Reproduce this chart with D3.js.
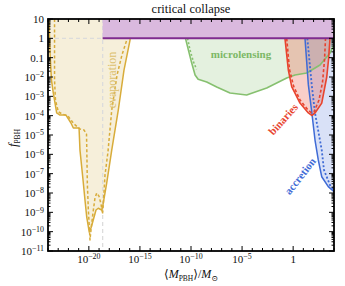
<!DOCTYPE html>
<html>
<head>
<meta charset="utf-8">
<script src="https://cdnjs.cloudflare.com/ajax/libs/d3/7.8.5/d3.min.js"></script>
<style>
  body { margin: 0; background: #fff; }
  svg { display: block; }
  text { font-family: "Liberation Serif", "DejaVu Serif", serif; fill: #111; }
</style>
</head>
<body>
<svg id="chart" width="345" height="286"></svg>
<script>
// all curves as [log10 M/Msun, log10 f_PBH]
var evapSolid = [[-23.9,1],[-23.9,0.95],[-23.8,-0.76],[-23.66,-2.16],[-23.48,-2.83],[-23.15,-3.86],
  [-22.83,-3.97],[-22.24,-3.97],[-21.75,-4.38],[-21.52,-4.64],[-20.96,-4.64],[-20.87,-5.78],
  [-20.57,-7.33],[-20.38,-8.36],[-20.21,-9.24],[-19.96,-10.02],[-19.79,-9.81],[-19.57,-9.40],
  [-19.30,-8.88],[-19.08,-8.79],[-18.74,-8.88],[-18.62,-8.62],[-18.25,-7.48],[-17.76,-5.78],
  [-17.12,-3.71],[-16.56,-1.64],[-15.97,-0.09],[-15.8,1]];
var evapDashed = [[-23.36,1],[-23.36,-2.16],[-23.27,-3.19],[-22.99,-3.80],[-22.63,-3.91],[-22.04,-4.02],
  [-21.45,-4.43],[-20.87,-4.69],[-20.48,-4.74],[-20.23,-4.95],[-20.2,-5.78],[-20.15,-7.48],
  [-20.05,-8.88],[-19.94,-9.91],[-19.89,-10.43],[-19.74,-9.66],[-19.56,-8.88],[-19.40,-8.26],
  [-19.23,-8.0],[-19.01,-8.16],[-18.81,-8.57],[-18.66,-9.09],[-18.59,-8.62],[-18.42,-7.07],
  [-18.13,-5.88],[-17.76,-3.71],[-17.24,-1.90],[-16.76,-0.86],[-16.29,-0.09],[-16.12,1]];
var lensSolid = [[-10.54,0],[-10.26,-0.60],[-9.93,-1.28],[-9.6,-1.9],[-9.3,-2.12],[-8.46,-2.26],
  [-7.48,-2.52],[-6.18,-2.83],[-4.55,-2.93],[-2.59,-2.57],[-0.63,-2.05],[0.18,-1.90],
  [1.33,-1.79],[2.63,-1.38],[3.61,-0.76],[4.0,-0.35]];
var lensDotted = [[-10.34,0],[-10.10,-0.60],[-9.76,-1.22],[-9.45,-1.6]];
var binSolid = [[-0.80,0],[-0.47,-1.64],[-0.14,-2.50],[0.67,-3.35],[1.49,-3.86],[1.85,-3.99],
  [2.14,-3.86],[2.80,-3.35],[3.29,-2.0],[3.46,-1.12],[3.61,0]];
var binDashed = [[-0.63,0],[-0.36,-1.61],[0.04,-2.47],[0.67,-3.19],[1.46,-3.71],[1.8,-3.85],
  [2.04,-3.81],[2.53,-3.19],[2.88,-2.26],[3.07,-1.12],[3.17,0]];
var accSolid = [[1.16,0],[1.49,-2.41],[1.82,-3.80],[2.14,-5.26],[2.46,-6.29],[2.80,-7.16],
  [3.44,-7.67],[4.0,-7.93]];
var accDotted = [[1.39,0],[1.82,-2.41],[2.14,-3.86],[2.80,-5.78],[3.02,-6.81],[3.61,-7.59],[4.0,-7.85]];
var bandFrom = -18.65;   // left end of the f = 1 band and the grey guide

var xMajor = [-20, -15, -10, -5, 0];
var yDecades = d3.range(-11, 2);

var svg = d3.select("#chart");
var x = d3.scaleLog().domain([1e-24, 1e4]).range([48, 334]);
var y = d3.scaleLog().domain([1e-11, 10]).range([251, 19]);
var X = function (d) { return x(Math.pow(10, d[0])); };
var Y = function (d) { return y(Math.pow(10, d[1])); };
var line = d3.line().x(X).y(Y);

function area(pts, extra) {
  return line(pts.concat(extra || [])) + "Z";
}

// fills
svg.append("path").attr("d", area(evapSolid)).attr("fill", "#f6efda");
svg.append("path").attr("d", area(lensSolid, [[4, 0]])).attr("fill", "#86c06f").attr("fill-opacity", 0.22);
svg.append("path").attr("d", area(accSolid, [[4, 0]])).attr("fill", "#3f6bd6").attr("fill-opacity", 0.2);
svg.append("path").attr("d", area(binSolid)).attr("fill", "#e8442e").attr("fill-opacity", 0.26);

// grey guides
svg.append("line").attr("x1", x(Math.pow(10, bandFrom))).attr("x2", x(Math.pow(10, bandFrom)))
  .attr("y1", y(10)).attr("y2", y(1e-11))
  .attr("stroke", "#dcdcdc").attr("stroke-width", 1.3).attr("stroke-dasharray", "4,3");
svg.append("line").attr("x1", x(1e-24)).attr("x2", x(Math.pow(10, bandFrom)))
  .attr("y1", y(1)).attr("y2", y(1))
  .attr("stroke", "#dcdcdc").attr("stroke-width", 1.3).attr("stroke-dasharray", "4,3");

function curve(pts, color, w, dash) {
  var p = svg.append("path").attr("d", line(pts)).attr("fill", "none")
    .attr("stroke", color).attr("stroke-width", w).attr("stroke-linejoin", "round");
  if (dash) p.attr("stroke-dasharray", dash);
}

curve(evapDashed, "#d8ac3a", 1.5, "3,2.2");
curve(evapSolid, "#d8ac3a", 1.5);
curve(lensDotted, "#86c06f", 1.6, "2,2");
curve(lensSolid, "#86c06f", 1.6);
curve(accDotted, "#3f6bd6", 1.8, "2,2");
curve(accSolid, "#3f6bd6", 1.5);
curve(binDashed, "#e8442e", 1.6, "3,2.2");
curve(binSolid, "#e8442e", 1.6);

// f = 1 band
svg.append("rect").attr("x", x(Math.pow(10, bandFrom))).attr("y", y(10))
  .attr("width", x(1e4) - x(Math.pow(10, bandFrom))).attr("height", y(1) - y(10))
  .attr("fill", "#dab9de");
svg.append("line").attr("x1", x(Math.pow(10, bandFrom))).attr("x2", x(1e4))
  .attr("y1", y(1)).attr("y2", y(1)).attr("stroke", "#7f2b8f").attr("stroke-width", 2);

// region labels
function label(txt, cx, cy, rot, color, size, weight) {
  svg.append("text").attr("transform", "translate(" + cx + "," + cy + ") rotate(" + rot + ")")
    .attr("text-anchor", "middle").attr("dominant-baseline", "central")
    .style("fill", color).style("font-size", size + "px").style("font-weight", weight)
    .text(txt);
}
label("evaporation", 112, 80, -90, "#dcc06e", 12, "normal");
label("microlensing", 241, 54, 0, "#7cb866", 11, "bold");
label("binaries", 283, 119, -48, "#e8442e", 11, "bold");
label("accretion", 300, 176, -52, "#3f6bd6", 11, "bold");

// frame and ticks
var gx = svg.append("g");
d3.range(-24, 5).forEach(function (k) {
  var px = x(Math.pow(10, k)), len = xMajor.indexOf(k) >= 0 ? 5 : 3;
  gx.append("line").attr("x1", px).attr("x2", px).attr("y1", 251).attr("y2", 251 - len);
  gx.append("line").attr("x1", px).attr("x2", px).attr("y1", 19).attr("y2", 19 + len);
});
yDecades.forEach(function (k) {
  var py = y(Math.pow(10, k));
  gx.append("line").attr("x1", 48).attr("x2", 53).attr("y1", py).attr("y2", py);
  gx.append("line").attr("x1", 334).attr("x2", 329).attr("y1", py).attr("y2", py);
  if (k < 1) d3.range(2, 10).forEach(function (m) {
    var pm = y(m * Math.pow(10, k));
    gx.append("line").attr("x1", 48).attr("x2", 50.5).attr("y1", pm).attr("y2", pm);
    gx.append("line").attr("x1", 334).attr("x2", 331.5).attr("y1", pm).attr("y2", pm);
  });
});
gx.selectAll("line").attr("stroke", "#000").attr("stroke-width", 1);
svg.append("rect").attr("x", 48).attr("y", 19).attr("width", 286).attr("height", 232)
  .attr("fill", "none").attr("stroke", "#000").attr("stroke-width", 1.8);

function pow10(sel, k) {
  if (k === 0) { sel.text("1"); return; }
  if (k === 1) { sel.text("10"); return; }
  if (k === -1) { sel.text("0.1"); return; }
  sel.append("tspan").text("10");
  sel.append("tspan").attr("dy", "-0.45em").style("font-size", "0.72em").text("\u2212" + (-k));
}

yDecades.forEach(function (k) {
  var t = svg.append("text").attr("x", 44).attr("y", y(Math.pow(10, k)) + 4)
    .attr("text-anchor", "end").style("font-size", "11px");
  pow10(t, k);
});
xMajor.forEach(function (k) {
  var t = svg.append("text").attr("x", x(Math.pow(10, k))).attr("y", 263)
    .attr("text-anchor", "middle").style("font-size", "11px");
  pow10(t, k);
});

svg.append("text").attr("x", 191).attr("y", 13).attr("text-anchor", "middle")
  .style("font-size", "12.5px").text("critical collapse");

var yl = svg.append("text").attr("transform", "translate(17,138) rotate(-90)")
  .attr("text-anchor", "middle").style("font-size", "12.5px");
yl.append("tspan").style("font-style", "italic").text("f");
yl.append("tspan").attr("dy", 2.5).style("font-size", "7.5px").text("PBH");

var xl = svg.append("text").attr("x", 191).attr("y", 278).attr("text-anchor", "middle")
  .style("font-size", "12px");
xl.append("tspan").text("\u27E8");
xl.append("tspan").style("font-style", "italic").text("M");
xl.append("tspan").attr("dy", 2.5).style("font-size", "7.5px").text("PBH");
xl.append("tspan").attr("dy", -2.5).text("\u27E9/");
xl.append("tspan").style("font-style", "italic").text("M");
xl.append("tspan").attr("dy", 2.5).style("font-size", "8px").text("\u2299");
</script>
</body>
</html>
